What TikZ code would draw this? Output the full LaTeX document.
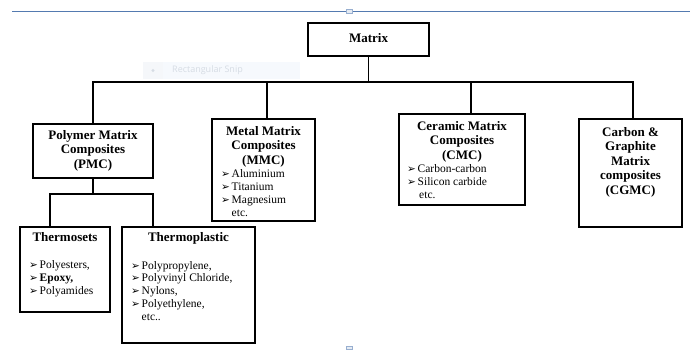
\documentclass[tikz,border=0pt]{standalone}
\usepackage{fontspec}
\setmainfont{Liberation Serif}
\newfontfamily\symfont{DejaVu Sans}
\newfontfamily\uifont{Open Sans}
\usepackage{tikz}
\usetikzlibrary{calc}

\definecolor{edgeblue}{RGB}{84,122,176}
\definecolor{snipfill}{RGB}{246,249,253}
\definecolor{sniptext}{RGB}{214,220,228}

% list entry with arrow bullet
\newcommand{\itm}[1]{\makebox[10.5pt][l]{\symfont\fontsize{10.5}{10}\selectfont ➢}#1}

\begin{document}
\begin{tikzpicture}[x=1pt,y=-1pt,
  box/.style={draw,line width=1.3pt,inner sep=0pt},
  link/.style={line width=1.2pt},
  head/.style={inner sep=0pt,align=center,font=\fontsize{13}{14.5}\selectfont\bfseries},
  items/.style={inner sep=0pt,align=left,font=\fontsize{11.5}{12.7}\selectfont}]

	\useasboundingbox (0,0) rectangle (690,349);

	% screen edge and snip ghost
	\draw[edgeblue,line width=0.8pt] (12,11) -- (690,11);
	\draw[edgeblue!60,fill=edgeblue!15,line width=0.4pt] (346,9.5) rectangle (352,13.5);
	\draw[edgeblue!60,fill=edgeblue!15,line width=0.4pt] (346,346) rectangle (352,349);
	\fill[snipfill] (143,62) rectangle (300,79);
	\fill[edgeblue!6] (143,62) rectangle (163,79);
	\fill[sniptext] (153,70.5) circle (1.6);
	\node[anchor=west,inner sep=0pt,text=sniptext,font=\uifont\fontsize{9}{9}\selectfont] (snip) at (172,70.5) {Rectangular Snip};

	% boxes
	\node[box,minimum width=121,minimum height=33] (matrix) at (368.5,39.5) {};
	\node[box,minimum width=120,minimum height=54] (pmc) at (93,151) {};
	\node[box,minimum width=103,minimum height=102] (mmc) at (263.5,170) {};
	\node[box,minimum width=126,minimum height=91] (cmc) at (462,159.5) {};
	\node[box,minimum width=103,minimum height=108] (cgmc) at (630.5,173) {};
	\node[box,minimum width=90,minimum height=85] (thermosets) at (65,269.5) {};
	\node[box,minimum width=133,minimum height=116] (thermoplastic) at (188.5,285) {};

	% tree lines
	\coordinate (busL) at (93,82);
	\coordinate (busR) at (633,82);
	\coordinate (mmcdrop) at (267,82);
	\coordinate (cmcdrop) at (471,82);
	\coordinate (subL) at (50,194);
	\coordinate (subR) at (153,194);
	\draw[link] (matrix.south) -- (matrix.south |- busL);
	\draw[link] (pmc.north) -- (busL) -- (busR) -- (busR |- cgmc.north);
	\draw[link] (mmcdrop) -- (mmcdrop |- mmc.north);
	\draw[link] (cmcdrop) -- (cmcdrop |- cmc.north);
	\draw[link] (pmc.south) -- (pmc.south |- subL);
	\draw[link] (subL |- thermosets.north) -- (subL) -- (subR) -- (subR |- thermoplastic.north);

	% texts (base = last line)
	\node[head,anchor=base] (matrixtxt) at (368.5,42) {Matrix};
	\node[head,anchor=base] (pmctxt) at (93,168) {Polymer Matrix\\Composites\\(PMC)};
	\node[head,anchor=base] (mmchead) at (263.5,164) {Metal Matrix\\Composites\\(MMC)};
	\node[items,anchor=base west] (mmclist) at (221,216) {\itm{Aluminium}\\\itm{Titanium}\\\itm{Magnesium}\\\hspace*{10.5pt}etc.};
	\node[head,anchor=base] (cmchead) at (462,159) {Ceramic Matrix\\Composites\\(CMC)};
	\node[items,anchor=base west] (cmclist) at (407,198) {\itm{Carbon-carbon}\\\itm{Silicon carbide}\\\hspace*{12pt}etc.};
	\node[head,anchor=base] (cgmchead) at (630.5,194) {Carbon \&\\Graphite\\Matrix\\composites\\(CGMC)};
	\node[head,anchor=base] (thermosetstxt) at (65,241) {Thermosets};
	\node[items,anchor=base west] (thermosetslist) at (29,294) {\itm{Polyesters,}\\\itm{\textbf{Epoxy,}}\\\itm{Polyamides}};
	\node[head,anchor=base] (thermoplastictxt) at (188.5,241) {Thermoplastic};
	\node[items,anchor=base west] (thermoplasticlist) at (131,320) {\itm{Polypropylene,}\\\itm{Polyvinyl Chloride,}\\\itm{Nylons,}\\\itm{Polyethylene,}\\\hspace*{10.5pt}etc..};
\end{tikzpicture}
\end{document}
